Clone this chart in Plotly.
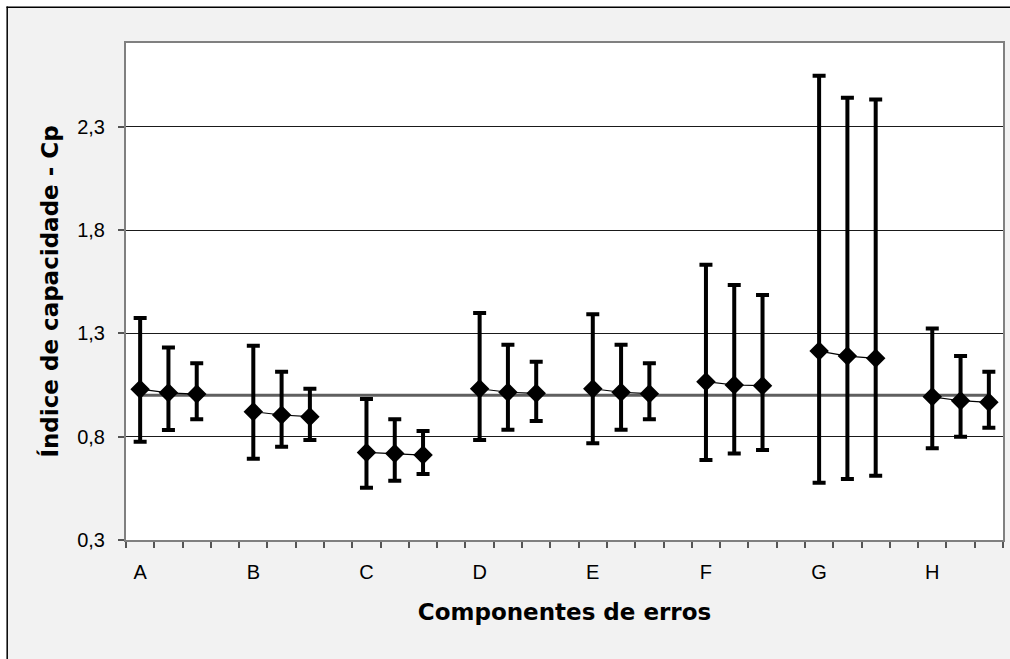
import plotly.graph_objects as go

# ---------------- data ----------------
groups = ["A", "B", "C", "D", "E", "F", "G", "H"]
points_per_group = 3
slots_per_group = 4  # 3 points + one empty slot between groups

cp_mean = [1.03, 1.012, 1.006,
           0.921, 0.905, 0.897,
           0.724, 0.719, 0.711,
           1.032, 1.015, 1.010,
           1.032, 1.015, 1.008,
           1.066, 1.050, 1.047,
           1.214, 1.190, 1.179,
           0.993, 0.974, 0.966]
cp_upper = [1.374, 1.232, 1.155,
            1.240, 1.114, 1.032,
            0.982, 0.884, 0.827,
            1.398, 1.245, 1.163,
            1.393, 1.245, 1.155,
            1.632, 1.534, 1.485,
            2.546, 2.440, 2.432,
            1.324, 1.190, 1.114]
cp_lower = [0.776, 0.832, 0.884,
            0.693, 0.751, 0.784,
            0.553, 0.587, 0.619,
            0.784, 0.834, 0.876,
            0.768, 0.834, 0.884,
            0.687, 0.718, 0.735,
            0.577, 0.595, 0.611,
            0.744, 0.800, 0.843]
reference_cp = 1.0

y_tick_values = [0.3, 0.8, 1.3, 1.8, 2.3]
y_tick_labels = ["0,3", "0,8", "1,3", "1,8", "2,3"]

# ---------------- build traces ----------------
n_slots = len(groups) * slots_per_group - 1
xs, ys, eplus, eminus = [], [], [], []
for g in range(len(groups)):
    for j in range(points_per_group):
        k = g * points_per_group + j
        xs.append(g * slots_per_group + j)
        ys.append(cp_mean[k])
        eplus.append(cp_upper[k] - cp_mean[k])
        eminus.append(cp_mean[k] - cp_lower[k])
    if g < len(groups) - 1:
        xs.append(g * slots_per_group + points_per_group)
        ys.append(None)
        eplus.append(None)
        eminus.append(None)

fig = go.Figure()

# reference line Cp = 1
ref_x = list(range(n_slots))
fig.add_trace(go.Scatter(
    x=ref_x, y=[reference_cp] * len(ref_x), mode="lines",
    line=dict(color="#5f5f5f", width=3), hoverinfo="skip", showlegend=False))

fig.add_trace(go.Scatter(
    x=xs, y=ys, mode="lines+markers", connectgaps=False,
    line=dict(color="#000000", width=1.2),
    marker=dict(symbol="diamond", size=15, color="#000000"),
    error_y=dict(type="data", symmetric=False, array=eplus, arrayminus=eminus,
                 color="#000000", thickness=4, width=6.5),
    showlegend=False))

# ---------------- layout ----------------
W, H = 1010, 659
ML, MR, MT, MB = 126, 7, 43, 119
PW, PH = W - ML - MR, H - MT - MB


def px_x(px):
    return (px - ML) / PW


def px_y(py):
    return (H - MB - py) / PH


frame_shapes = [
    dict(type="rect", xref="paper", yref="paper", x0=px_x(-5), x1=px_x(W + 5),
         y0=px_y(6.5), y1=px_y(-5), fillcolor="white", line=dict(width=0)),
    dict(type="rect", xref="paper", yref="paper", x0=px_x(-5), x1=px_x(6.5),
         y0=px_y(H + 5), y1=px_y(-5), fillcolor="white", line=dict(width=0)),
    dict(type="line", xref="paper", yref="paper", x0=px_x(6.5), x1=px_x(W + 5),
         y0=px_y(7.2), y1=px_y(7.2), line=dict(color="black", width=1.5)),
    dict(type="line", xref="paper", yref="paper", x0=px_x(7.2), x1=px_x(7.2),
         y0=px_y(6.5), y1=px_y(H + 5), line=dict(color="black", width=1.5)),
]

tick_font = dict(family="Liberation Sans, Arial, sans-serif", size=20, color="#000000")
title_font = dict(family="DejaVu Sans, sans-serif", size=23, color="#000000", weight="bold")

fig.update_layout(
    width=W, height=H,
    margin=dict(l=ML, r=MR, t=MT, b=MB, autoexpand=False),
    paper_bgcolor="#f2f2f2", plot_bgcolor="#ffffff",
    showlegend=False,
    shapes=frame_shapes,
    xaxis=dict(
        range=[-0.5, n_slots - 0.5],
        tickmode="array",
        tickvals=[g * slots_per_group for g in range(len(groups))],
        ticktext=groups,
        ticks="",
        tickfont=tick_font,
        ticklabelstandoff=13,
        showgrid=False, zeroline=False,
        showline=True, linecolor="#808080", linewidth=2, mirror=True,
        minor=dict(tickmode="linear", tick0=-0.5, dtick=1, ticks="outside",
                   ticklen=6, tickwidth=1.5, tickcolor="#555555", showgrid=False),
        title=dict(text="Componentes de erros", font=title_font, standoff=22),
    ),
    yaxis=dict(
        range=[0.3, 2.705],
        tickmode="array", tickvals=y_tick_values, ticktext=y_tick_labels,
        ticks="outside", ticklen=6, tickwidth=1.5, tickcolor="#555555",
        tickfont=tick_font,
        ticklabelstandoff=9,
        showgrid=True, gridcolor="#1a1a1a", gridwidth=1,
        zeroline=False,
        showline=True, linecolor="#808080", linewidth=2, mirror=True,
        title=dict(text="Índice de capacidade - Cp", font=title_font, standoff=12),
    ),
)

fig.write_html("out.html")
